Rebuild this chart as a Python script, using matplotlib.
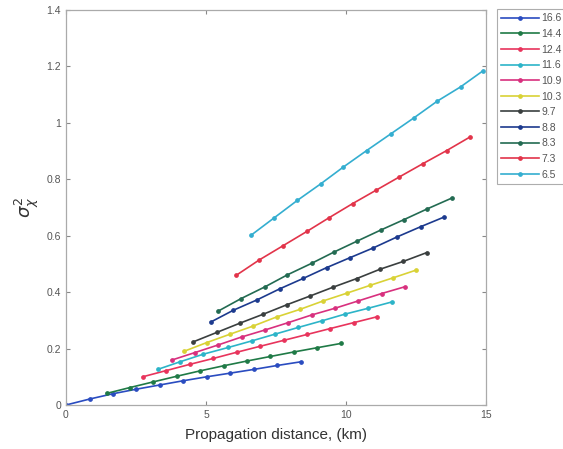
import matplotlib
matplotlib.use("Agg")
import matplotlib.pyplot as plt

plt.rcParams["font.family"] = ["Liberation Sans", "DejaVu Sans"]

labels = ["16.6", "14.4", "12.4", "11.6", "10.9", "10.3", "9.7", "8.8", "8.3", "7.3", "6.5"]
colors = ["#2a4cc0", "#1f7a46", "#e8345c", "#2cb4c8", "#d8307e", "#d9d236",
          "#3a3f3f", "#1c3a8e", "#236b52", "#e2344a", "#34aed0"]

x_166 = [0.0, 0.84, 1.68, 2.51, 3.35, 4.19, 5.03, 5.87, 6.70, 7.54, 8.38]
y_166 = [0.0, 0.021, 0.040, 0.056, 0.071, 0.086, 0.100, 0.113, 0.126, 0.140, 0.153]
x_144 = [1.45, 2.29, 3.12, 3.96, 4.79, 5.63, 6.47, 7.30, 8.14, 8.97, 9.81]
y_144 = [0.041, 0.062, 0.082, 0.102, 0.121, 0.139, 0.156, 0.172, 0.188, 0.203, 0.218]
x_124 = [2.74, 3.58, 4.42, 5.26, 6.10, 6.93, 7.77, 8.61, 9.44, 10.28, 11.12]
y_124 = [0.100, 0.122, 0.144, 0.165, 0.187, 0.208, 0.229, 0.250, 0.271, 0.292, 0.313]
x_116 = [3.30, 4.07, 4.90, 5.80, 6.63, 7.46, 8.30, 9.13, 9.96, 10.80, 11.63]
y_116 = [0.127, 0.153, 0.180, 0.204, 0.227, 0.251, 0.275, 0.298, 0.322, 0.343, 0.365]
x_109 = [3.77, 4.61, 5.44, 6.27, 7.11, 7.94, 8.77, 9.61, 10.44, 11.27, 12.10]
y_109 = [0.159, 0.186, 0.213, 0.241, 0.266, 0.292, 0.319, 0.343, 0.369, 0.395, 0.419]
x_103 = [4.21, 5.02, 5.86, 6.69, 7.52, 8.36, 9.19, 10.02, 10.86, 11.69, 12.50]
y_103 = [0.190, 0.221, 0.251, 0.280, 0.312, 0.339, 0.369, 0.396, 0.424, 0.451, 0.478]
x_97 = [4.55, 5.38, 6.21, 7.05, 7.88, 8.71, 9.55, 10.38, 11.21, 12.05, 12.88]
y_97 = [0.224, 0.257, 0.290, 0.322, 0.355, 0.386, 0.418, 0.448, 0.481, 0.509, 0.540]
x_88 = [5.17, 5.98, 6.81, 7.64, 8.48, 9.31, 10.14, 10.98, 11.83, 12.67, 13.50]
y_88 = [0.294, 0.336, 0.372, 0.412, 0.449, 0.487, 0.522, 0.557, 0.596, 0.632, 0.666]
x_83 = [5.44, 6.25, 7.11, 7.90, 8.77, 9.57, 10.40, 11.24, 12.07, 12.90, 13.77]
y_83 = [0.333, 0.377, 0.419, 0.461, 0.502, 0.542, 0.581, 0.620, 0.657, 0.695, 0.733]
x_73 = [6.07, 6.90, 7.76, 8.60, 9.40, 10.24, 11.07, 11.90, 12.74, 13.60, 14.43]
y_73 = [0.459, 0.514, 0.565, 0.615, 0.664, 0.714, 0.761, 0.808, 0.855, 0.902, 0.950]
x_65 = [6.60, 7.43, 8.26, 9.10, 9.90, 10.74, 11.60, 12.43, 13.26, 14.10, 14.90]
y_65 = [0.601, 0.663, 0.725, 0.784, 0.843, 0.902, 0.961, 1.018, 1.077, 1.128, 1.185]

series = [(x_166, y_166), (x_144, y_144), (x_124, y_124), (x_116, y_116),
          (x_109, y_109), (x_103, y_103), (x_97, y_97), (x_88, y_88),
          (x_83, y_83), (x_73, y_73), (x_65, y_65)]

fig = plt.figure(figsize=(5.63, 4.49), dpi=100)
ax = fig.add_axes([0.1172, 0.098, 0.746, 0.8797])

for (xs, ys), lab, col in zip(series, labels, colors):
    ax.plot(xs, ys, "-", marker="o", color=col, lw=1.2, ms=2.4, label=lab)

ax.set_xlim(0, 15)
ax.set_ylim(0, 1.4)
ax.set_xticks([0, 5, 10, 15])
ax.set_xticklabels(["0", "5", "10", "15"])
ax.set_yticks([0, 0.2, 0.4, 0.6, 0.8, 1.0, 1.2, 1.4])
ax.set_yticklabels(["0", "0.2", "0.4", "0.6", "0.8", "1", "1.2", "1.4"])
ax.tick_params(direction="in", length=3, width=0.8, colors="#888888",
               labelcolor="#555555", labelsize=7.5, top=True, right=True)
for sp in ax.spines.values():
    sp.set_color("#aaaaaa")
    sp.set_linewidth(0.9)

ax.set_xlabel("Propagation distance, (km)", fontsize=11, color="#333333", labelpad=6)
ax.set_ylabel(r"$\sigma^2_\chi$", fontsize=13, color="#333333", labelpad=4)

# legend sits partly outside the figure, as in the source image
leg = ax.legend(loc="upper left", bbox_to_anchor=(1.026, 1.002), borderaxespad=0,
                fontsize=7.5, frameon=True, fancybox=False, handlelength=3.6,
                handletextpad=0.25, labelspacing=0.54, borderpad=0.4)
leg.get_frame().set_edgecolor("#999999")
leg.get_frame().set_linewidth(0.8)
for t in leg.get_texts():
    t.set_color("#555555")

fig.savefig("out.png", dpi=100)
